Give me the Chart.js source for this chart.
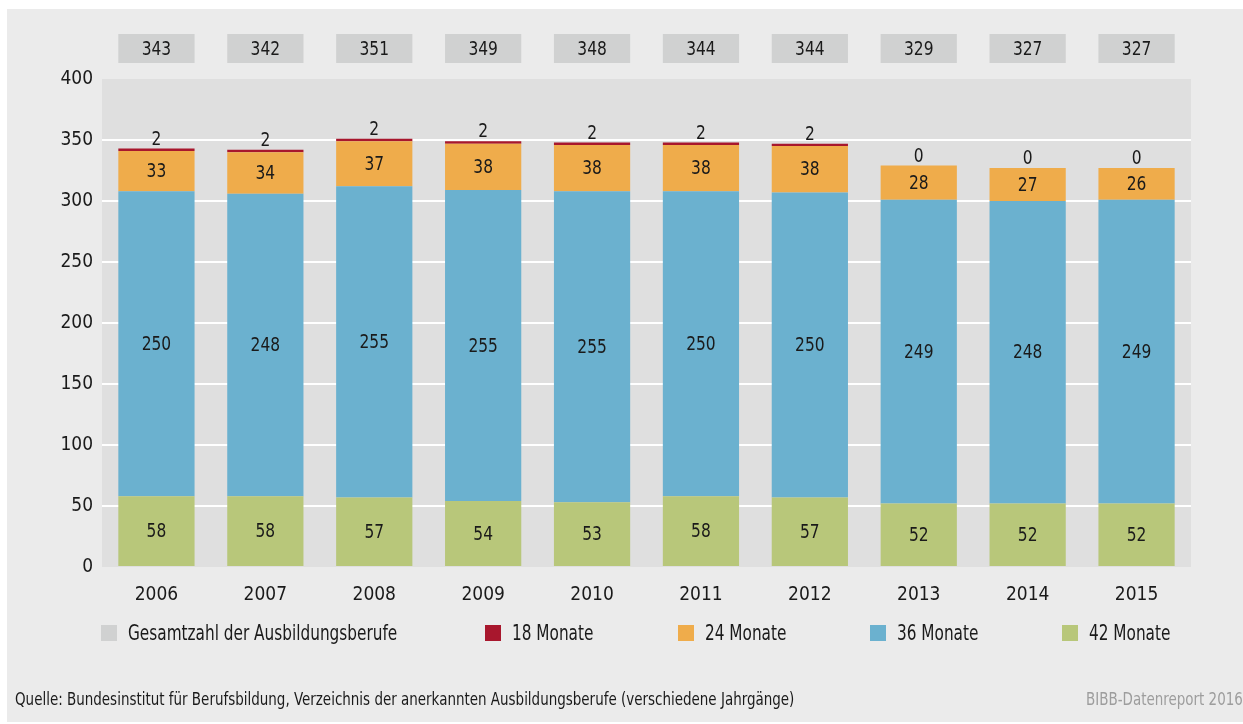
<!DOCTYPE html>
<html>
<head>
<meta charset="utf-8">
<script src="https://cdn.jsdelivr.net/npm/chart.js@4/dist/chart.umd.min.js"></script>
<style>
  html, body { margin: 0; padding: 0; background: #fff; }
  body { width: 1243px; height: 724px; position: relative; overflow: hidden;
         font-family: 'DejaVu Sans Condensed', 'DejaVu Sans', sans-serif; font-stretch: condensed; color: #1a1a1a; }
  #panel { position: absolute; left: 7px; top: 9px; width: 1240px; height: 713px; background: #ebebeb; }
  #wrap { position: absolute; left: 0; top: 0; width: 1243px; height: 724px; }
  .legend { position: absolute; top: 620px; font-size: 20.5px; line-height: 26px; white-space: nowrap; }
  .legend span.box { display: inline-block; width: 16px; height: 16px; vertical-align: -1px; margin-right: 11px; }
  .legend span.txt { display: inline-block; transform: scaleX(0.83); transform-origin: left center; }
  .note { position: absolute; top: 689px; font-size: 17.5px; white-space: nowrap;
          transform: scaleX(0.855); transform-origin: left center; }
  #source { left: 15px; }
  #credit { left: 1086px; color: #9d9d9d; }
</style>
</head>
<body>
<div id="panel"></div>
<div id="wrap"><canvas id="chart"></canvas></div>

<div class="legend" style="left:101px"><span class="box" style="background:#d0d1d1"></span><span class="txt">Gesamtzahl der Ausbildungsberufe</span></div>
<div class="legend" style="left:485px"><span class="box" style="background:#a8172d"></span><span class="txt">18 Monate</span></div>
<div class="legend" style="left:678px"><span class="box" style="background:#efac4b"></span><span class="txt">24 Monate</span></div>
<div class="legend" style="left:870px"><span class="box" style="background:#6bb1cf"></span><span class="txt">36 Monate</span></div>
<div class="legend" style="left:1062px"><span class="box" style="background:#b8c77a"></span><span class="txt">42 Monate</span></div>

<div class="note" id="source">Quelle: Bundesinstitut für Berufsbildung, Verzeichnis der anerkannten Ausbildungsberufe (verschiedene Jahrgänge)</div>
<div class="note" id="credit">BIBB-Datenreport 2016</div>

<script>
// Data
const years = ["2006", "2007", "2008", "2009", "2010", "2011", "2012", "2013", "2014", "2015"];
const months42 = [58, 58, 57, 54, 53, 58, 57, 52, 52, 52];
const months36 = [250, 248, 255, 255, 255, 250, 250, 249, 248, 249];
const months24 = [33, 34, 37, 38, 38, 38, 38, 28, 27, 26];
const months18 = [2, 2, 2, 2, 2, 2, 2, 0, 0, 0];
const totals = [343, 342, 351, 349, 348, 344, 344, 329, 327, 327];
const yTicks = [0, 50, 100, 150, 200, 250, 300, 350, 400];

const FONT = "'DejaVu Sans Condensed', 'DejaVu Sans', sans-serif";
Chart.defaults.font.family = FONT;
Chart.defaults.color = "#1a1a1a";

// plot area background
const plotBg = {
    id: "plotBg",
    beforeDraw(chart) {
        const { ctx, chartArea: a } = chart;
        ctx.save();
        ctx.fillStyle = "#dfdfdf";
        ctx.fillRect(a.left, a.top, a.right - a.left, a.bottom - a.top);
        ctx.restore();
    }
};

// narrow text like the condensed font of the original
function narrowText(ctx, txt, x, y) {
    ctx.save();
    ctx.translate(x, y);
    ctx.scale(0.86, 1);
    ctx.fillText(txt, 0, 0);
    ctx.restore();
}

// value labels in the segments, plus the total boxes on top
const valueLabels = {
    id: "valueLabels",
    afterDatasetsDraw(chart) {
        const ctx = chart.ctx;
        ctx.save();
        ctx.font = "20px " + FONT;
        ctx.fillStyle = "#1a1a1a";
        ctx.textAlign = "center";
        chart.data.datasets.forEach((ds, i) => {
            const meta = chart.getDatasetMeta(i);
            meta.data.forEach((bar, j) => {
                const v = ds.data[j];
                if (ds.label === "18 Monate") {
                    ctx.textBaseline = "bottom";
                    narrowText(ctx, String(v), bar.x, bar.y + 1);
                } else {
                    ctx.textBaseline = "middle";
                    narrowText(ctx, String(v), bar.x, (bar.y + bar.base) / 2 + 1);
                }
            });
        });

        // totals boxes
        const meta0 = chart.getDatasetMeta(0);
        meta0.data.forEach((bar, j) => {
            const w = bar.width;
            ctx.fillStyle = "#d0d1d1";
            ctx.fillRect(bar.x - w / 2, 34, w, 29);
            ctx.fillStyle = "#1a1a1a";
            ctx.textBaseline = "middle";
            narrowText(ctx, String(totals[j]), bar.x, 50);
        });
        ctx.restore();
    }
};

new Chart(document.getElementById("chart"), {
    type: "bar",
    data: {
        labels: years,
        datasets: [
            { label: "42 Monate", data: months42, backgroundColor: "#b8c77a" },
            { label: "36 Monate", data: months36, backgroundColor: "#6bb1cf" },
            { label: "24 Monate", data: months24, backgroundColor: "#efac4b" },
            { label: "18 Monate", data: months18, backgroundColor: "#a8172d" }
        ]
    },
    options: {
        responsive: true,
        maintainAspectRatio: false,
        animation: false,
        barPercentage: 0.7,
        categoryPercentage: 1,
        layout: { padding: { left: 0, top: 79, right: 52, bottom: 117 } },
        plugins: {
            legend: { display: false },
            tooltip: { enabled: false }
        },
        scales: {
            x: {
                stacked: true,
                grid: { display: false },
                border: { display: false },
                ticks: { font: { size: 19 }, padding: 9, color: "#1a1a1a" },
                afterFit(scale) { scale.height = 40; }
            },
            y: {
                stacked: true,
                min: 0,
                max: 400,
                afterBuildTicks(scale) { scale.ticks = yTicks.map(v => ({ value: v })); },
                grid: {
                    color: ctx => (ctx.tick && (ctx.tick.value === 0 || ctx.tick.value === 400)) ? "rgba(0,0,0,0)" : "#ffffff",
                    lineWidth: 2,
                    drawTicks: false
                },
                border: { display: false },
                ticks: { font: { size: 19 }, padding: 9, color: "#1a1a1a" },
                afterFit(scale) { scale.width = 102; }
            }
        }
    },
    plugins: [plotBg, valueLabels]
});
</script>
</body>
</html>
